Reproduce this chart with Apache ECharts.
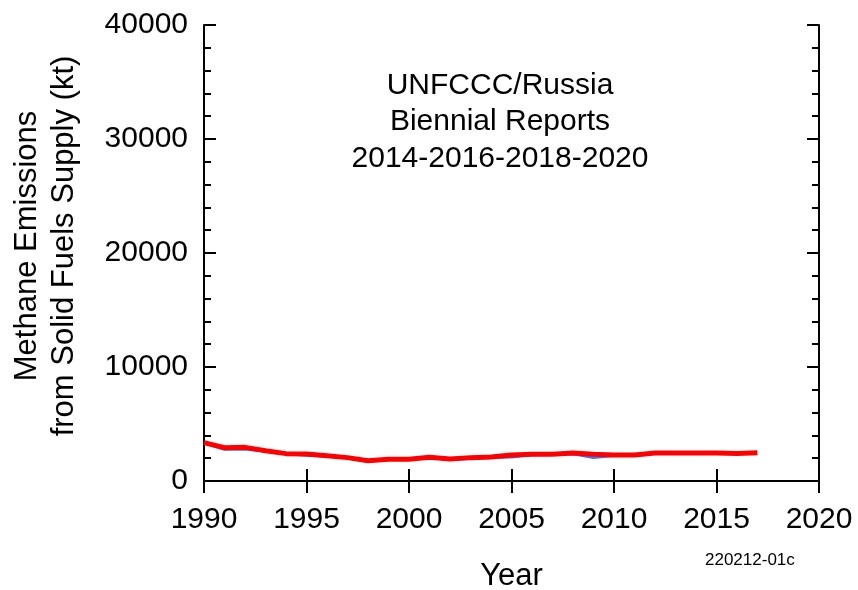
<!DOCTYPE html>
<html>
<head>
<meta charset="utf-8">
<script src="https://cdn.jsdelivr.net/npm/echarts@6/dist/echarts.min.js"></script>
<style>
  html, body { margin: 0; padding: 0; background: #fff; }
  #chart { width: 858px; height: 590px; }
</style>
</head>
<body>
<div id="chart"></div>
<script>
// Methane emissions from solid fuel supply, Russia, UNFCCC biennial reports (kt)
const years = [1990, 1991, 1992, 1993, 1994, 1995, 1996, 1997, 1998, 1999,
               2000, 2001, 2002, 2003, 2004, 2005, 2006, 2007, 2008, 2009,
               2010, 2011, 2012, 2013, 2014, 2015, 2016, 2017];

// Earlier report submission
const reportEarly = [3360, 2780, 2800, 2640, 2380, 2260, 2200, 2040, 1780, 1900,
                     1900, 2060, 1880, 1980, 2060, 2100, 2300, 2320, 2380, 2050,
                     2230, 2250, 2430, 2440, 2440, 2430, 2420];

// Latest report submission
const reportLatest = [3360, 2920, 2950, 2660, 2400, 2370, 2220, 2050, 1780, 1900,
                      1900, 2080, 1930, 2050, 2100, 2280, 2340, 2340, 2450, 2340,
                      2280, 2280, 2450, 2450, 2450, 2450, 2420, 2480];

const xTicks = [1990, 1995, 2000, 2005, 2010, 2015, 2020];
const yTicks = [0, 10000, 20000, 30000, 40000];

const pairs = (xs, ys) => ys.map((v, i) => [xs[i], v]);

const font = 'Liberation Sans, Arial, sans-serif';
const chart = echarts.init(document.getElementById('chart'), null, { renderer: 'canvas' });

const axisLine = { show: true, lineStyle: { color: '#000', width: 2 } };

chart.setOption({
  animation: false,
  backgroundColor: '#fff',
  grid: { left: 204, right: 39, top: 25, bottom: 109, containLabel: false, outerBoundsMode: 'none' },
  title: {
    text: 'UNFCCC/Russia\nBiennial Reports\n2014-2016-2018-2020',
    left: 495, top: 62, textAlign: 'center',
    textStyle: { fontFamily: font, fontSize: 30, fontWeight: 'normal', color: '#000', lineHeight: 36.5 }
  },
  graphic: [
    {
      type: 'text', left: 705, top: 552,
      style: { text: '220212-01c', font: '17px ' + font, fill: '#000' }
    }
  ],
  xAxis: [
    {
      type: 'value', min: xTicks[0], max: xTicks[xTicks.length - 1], interval: 5,
      position: 'bottom',
      name: 'Year', nameLocation: 'middle', nameGap: 80,
      nameTextStyle: { fontFamily: font, fontSize: 31, color: '#000' },
      axisLine: axisLine,
      axisTick: { show: true, inside: true, length: 12, lineStyle: { color: '#000', width: 2 } },
      axisLabel: { fontFamily: font, fontSize: 30, color: '#000', margin: 24,
                   formatter: v => String(v) },
      splitLine: { show: false }
    },
    {
      type: 'value', min: xTicks[0], max: xTicks[xTicks.length - 1], interval: 5,
      position: 'top',
      axisLine: axisLine,
      axisTick: { show: true, inside: true, length: 12, lineStyle: { color: '#000', width: 2 } },
      axisLabel: { show: false },
      splitLine: { show: false }
    }
  ],
  yAxis: [
    {
      type: 'value', min: yTicks[0], max: yTicks[yTicks.length - 1], interval: 10000,
      position: 'left',
      name: 'Methane Emissions\nfrom Solid Fuels Supply (kt)', nameLocation: 'middle', nameGap: 121,
      nameTextStyle: { fontFamily: font, fontSize: 31, color: '#000', lineHeight: 37,
                       padding: [0, 0, 0, 14] },
      axisLine: axisLine,
      axisTick: { show: true, inside: true, length: 12, lineStyle: { color: '#000', width: 2 } },
      minorTick: { show: true, splitNumber: 5, length: 7, lineStyle: { color: '#000', width: 2 } },
      axisLabel: { fontFamily: font, fontSize: 30, color: '#000', margin: 16,
                   formatter: v => String(v) },
      splitLine: { show: false }
    },
    {
      type: 'value', min: yTicks[0], max: yTicks[yTicks.length - 1], interval: 10000,
      position: 'right',
      axisLine: axisLine,
      axisTick: { show: true, inside: true, length: 12, lineStyle: { color: '#000', width: 2 } },
      minorTick: { show: true, splitNumber: 5, length: 7, lineStyle: { color: '#000', width: 2 } },
      axisLabel: { show: false },
      splitLine: { show: false }
    }
  ],
  series: [
    {
      name: 'Earlier report', type: 'line', xAxisIndex: 0, yAxisIndex: 0,
      data: pairs(years, reportEarly), showSymbol: false,
      lineStyle: { color: '#2f78ff', width: 3 }, z: 2
    },
    {
      name: 'Latest report', type: 'line', xAxisIndex: 0, yAxisIndex: 0,
      data: pairs(years, reportLatest), showSymbol: false,
      lineStyle: { color: '#ff0000', width: 5 }, z: 3
    }
  ]
});
</script>
</body>
</html>
